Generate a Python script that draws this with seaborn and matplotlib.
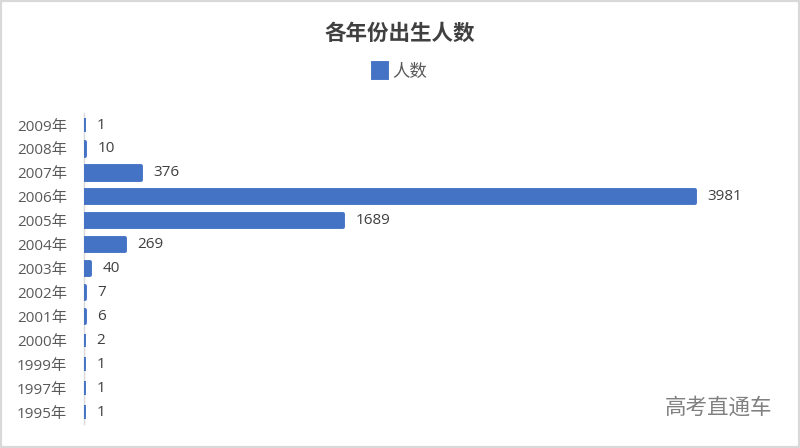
import matplotlib
matplotlib.use("Agg")
import matplotlib.pyplot as plt
import seaborn as sns
import pandas as pd
from matplotlib.patches import Rectangle

years = ["2009年", "2008年", "2007年", "2006年", "2005年", "2004年", "2003年",
         "2002年", "2001年", "2000年", "1999年", "1997年", "1995年"]
counts = [1, 10, 376, 3981, 1689, 269, 40, 7, 6, 2, 1, 1, 1]
series_name = "人数"
title = "各年份出生人数"
watermark = "高考直通车"

sns.set_theme(style="white")
plt.rcParams['font.family'] = ['Noto Sans CJK SC', 'DejaVu Sans']
latin_fam = ['Open Sans', 'Noto Sans CJK SC']

df = pd.DataFrame({"year": years, "count": counts})

fig = plt.figure(figsize=(8, 4.48), dpi=100)
ax = fig.add_axes([0.1045, 0.0536, 0.872, 0.694])

bar_color = "#4472C4"
sns.barplot(data=df, x="count", y="year", orient="h", order=years,
            color=bar_color, saturation=1, width=0.56, ax=ax,
            edgecolor=bar_color, linewidth=2.8, label=series_name)
for p in ax.patches:
    p.set_joinstyle("round")
    p.set_zorder(2)

ax.set_xlim(0, 4540)
ax.set_xlabel("")
ax.set_ylabel("")
ax.set_xticks([])
ax.tick_params(axis="y", length=0, labelsize=11, labelcolor="#595959", pad=12)
for lab in ax.get_yticklabels():
    lab.set_family(latin_fam)
for s in ["top", "right", "bottom"]:
    ax.spines[s].set_visible(False)
ax.spines["left"].set_color("#D9D9D9")
ax.spines["left"].set_linewidth(1.0)
ax.spines["left"].set_zorder(1)

for c in ax.containers:
    texts = ax.bar_label(c, labels=[str(v) for v in counts], padding=9,
                         fontsize=11, color="#404040")
    for t in texts:
        t.set_family(latin_fam)

fig.text(0.5, 0.925, title, ha="center", va="center", fontsize=15.5,
         fontweight="bold", color="#404040")

leg = ax.legend(loc="center", bbox_to_anchor=(0.5, 0.84),
                bbox_transform=fig.transFigure, frameon=False,
                fontsize=12.5, handlelength=0.8, handleheight=0.9,
                handletextpad=0.3, labelcolor="#595959")

fig.text(0.965, 0.089, watermark, ha="right", va="center", fontsize=15.5,
         color="#808080")

fig.patches.append(Rectangle((0, 0), 1, 1, transform=fig.transFigure,
                             fill=False, edgecolor="#D9D9D9", linewidth=3,
                             zorder=10))

fig.savefig("out.png", dpi=100)
